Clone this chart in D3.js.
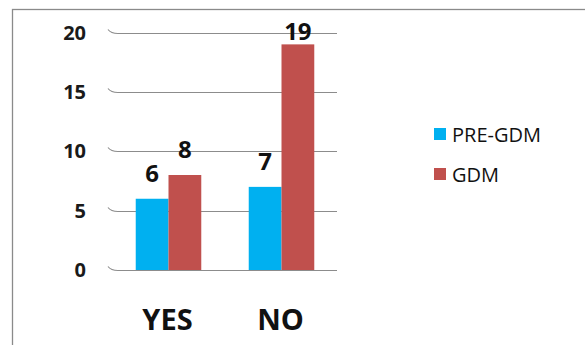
<!DOCTYPE html>
<html>
<head>
<meta charset="utf-8">
<script src="https://cdnjs.cloudflare.com/ajax/libs/d3/7.8.5/d3.min.js"></script>
<style>
  body { margin: 0; background: #fff; }
  svg { display: block; font-family: "Open Sans", sans-serif; }
</style>
</head>
<body>
<svg width="585" height="345"></svg>
<script>
// data
const categories = ['YES', 'NO'];
const seriesNames = ['PRE-GDM', 'GDM'];
const preGdm = [6, 7];
const gdm = [8, 19];
const yTicks = [0, 5, 10, 15, 20];
const colors = ['#00B0F0', '#C0504D'];

const svg = d3.select('svg');

const rows = categories.map((c, i) => ({ cat: c, values: [preGdm[i], gdm[i]] }));

// frame
svg.append('rect')
  .attr('x', 12.5).attr('y', 9.5)
  .attr('width', 700).attr('height', 500)
  .attr('fill', 'none')
  .attr('stroke', '#8a8a8a')
  .attr('stroke-width', 1.3);

const x0 = d3.scaleBand()
  .domain(categories)
  .range([112, 338])
  .paddingInner(0.42)
  .paddingOuter(0.21);

const x1 = d3.scaleBand()
  .domain(seriesNames)
  .range([0, x0.bandwidth()]);

const y = d3.scaleLinear().domain([0, 20]).range([270, 32.5]);

// gridlines with little hook at left
svg.append('g')
  .selectAll('path')
  .data(yTicks)
  .enter()
  .append('path')
  .attr('d', d => {
    const yy = Math.round(y(d)) + 0.5;
    return `M108,${yy - 4} Q111,${yy} 118,${yy} L337,${yy}`;
  })
  .attr('fill', 'none')
  .attr('stroke', '#8c8c8c')
  .attr('stroke-width', 1.2);

// y tick labels
svg.append('g')
  .selectAll('text')
  .data(yTicks)
  .enter()
  .append('text')
  .attr('x', 86)
  .attr('y', d => y(d))
  .attr('dy', '0.36em')
  .attr('text-anchor', 'end')
  .attr('font-size', 20)
  .attr('font-weight', 'bold')
  .attr('fill', '#1a1a1a')
  .text(d => d);

// bars
const groups = svg.append('g')
  .selectAll('g')
  .data(rows)
  .enter()
  .append('g')
  .attr('transform', d => `translate(${x0(d.cat)},0)`);

groups.selectAll('rect')
  .data(d => d.values.map((v, i) => ({ key: seriesNames[i], v: v, i: i })))
  .enter()
  .append('rect')
  .attr('x', d => x1(d.key))
  .attr('y', d => y(d.v))
  .attr('width', x1.bandwidth())
  .attr('height', d => y(0) - y(d.v))
  .attr('fill', d => colors[d.i]);

// value labels (top one gets pushed down to stay in the plot, like excel)
groups.selectAll('text')
  .data(d => d.values.map((v, i) => ({ key: seriesNames[i], v: v, i: i })))
  .enter()
  .append('text')
  .attr('x', d => x1(d.key) + x1.bandwidth() / 2)
  .attr('y', d => Math.max(y(d.v) - 17, 39.5))
  .attr('text-anchor', 'middle')
  .attr('font-size', 24)
  .attr('font-weight', 'bold')
  .attr('fill', '#111')
  .text(d => d.v);

// category labels
svg.append('g')
  .selectAll('text')
  .data(categories)
  .enter()
  .append('text')
  .attr('x', d => x0(d) + x0.bandwidth() / 2 - 1)
  .attr('y', 329.5)
  .attr('text-anchor', 'middle')
  .attr('font-size', 29)
  .attr('font-weight', 'bold')
  .attr('fill', '#111')
  .text(d => d);

// legend
const legend = svg.append('g')
  .selectAll('g')
  .data(seriesNames)
  .enter()
  .append('g')
  .attr('transform', (d, i) => `translate(434,${128 + i * 40})`);

legend.append('rect')
  .attr('width', 12).attr('height', 12)
  .attr('fill', (d, i) => colors[i]);

legend.append('text')
  .attr('x', 18)
  .attr('y', 13.5)
  .attr('font-size', 20)
  .attr('fill', '#111')
  .text(d => d);
</script>
</body>
</html>
